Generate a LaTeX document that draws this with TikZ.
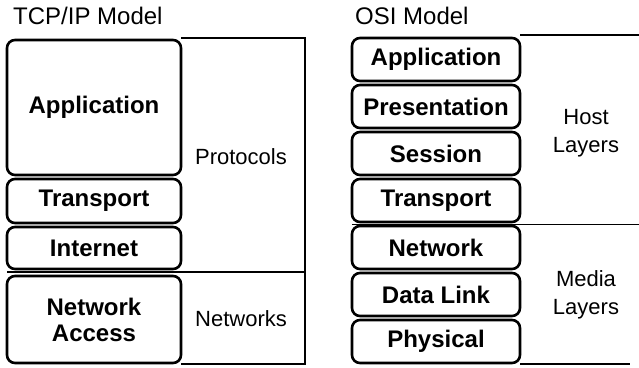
\documentclass[tikz,border=0pt]{standalone}
\usepackage{fontspec}
\setmainfont{Liberation Sans}

\begin{document}
\begin{tikzpicture}[x=1pt, y=-1pt,
    layer/.style={draw, line width=2.6pt, rounded corners=8pt, inner sep=0pt,
        align=center, font=\fontsize{24}{26}\selectfont\bfseries},
    frame/.style={line width=1.6pt},
    group/.style={align=center, font=\fontsize{22}{28}\selectfont},
    title/.style={anchor=base west, inner sep=0pt, font=\fontsize{24}{26}\selectfont}]
    \useasboundingbox (0,0) rectangle (639,367);

    % TCP/IP side
    \node[title] (ttitle) at (13,24.5) {TCP/IP Model};
    \draw[frame] (181,38) -- (305,38) -- (305,364) -- (181,364);
    \draw[frame] (7,272) -- (305,272);
    \node[layer, minimum width=174pt, minimum height=135pt] (tapp) at (94,107.5) {Application};
    \node[layer, minimum width=174pt, minimum height=44pt] (ttrans) at (94,201) {Transport};
    \node[layer, minimum width=174pt, minimum height=42pt] (tnet) at (94,248) {Internet};
    \node[layer, minimum width=174pt, minimum height=87pt] (tacc) at (94,319.5) {Network\\Access};
    \node[group] (tproto) at (241,157) {Protocols};
    \node[group] (tnets) at (241,319) {Networks};

    % OSI side
    \node[title] (otitle) at (355,24.5) {OSI Model};
    \draw[frame] (520,35) -- (639,35);
    \draw[frame] (352,224.5) -- (639,224.5);
    \draw[frame] (520,364) -- (630,364);
    \node[layer, minimum width=168pt, minimum height=43pt] (oapp) at (436,59.5) {Application};
    \node[layer, minimum width=168pt, minimum height=43pt] (opres) at (436,106.5) {Presentation};
    \node[layer, minimum width=168pt, minimum height=43pt] (osess) at (436,153.5) {Session};
    \node[layer, minimum width=168pt, minimum height=43pt] (otrans) at (436,200.5) {Transport};
    \node[layer, minimum width=168pt, minimum height=43pt] (onet) at (436,247.5) {Network};
    \node[layer, minimum width=168pt, minimum height=43pt] (olink) at (436,294.5) {Data Link};
    \node[layer, minimum width=168pt, minimum height=43pt] (ophys) at (436,341.5) {Physical};
    \node[group] (ohost) at (586,133) {Host\\Layers};
    \node[group] (omedia) at (586,295) {Media\\Layers};
\end{tikzpicture}
\end{document}
